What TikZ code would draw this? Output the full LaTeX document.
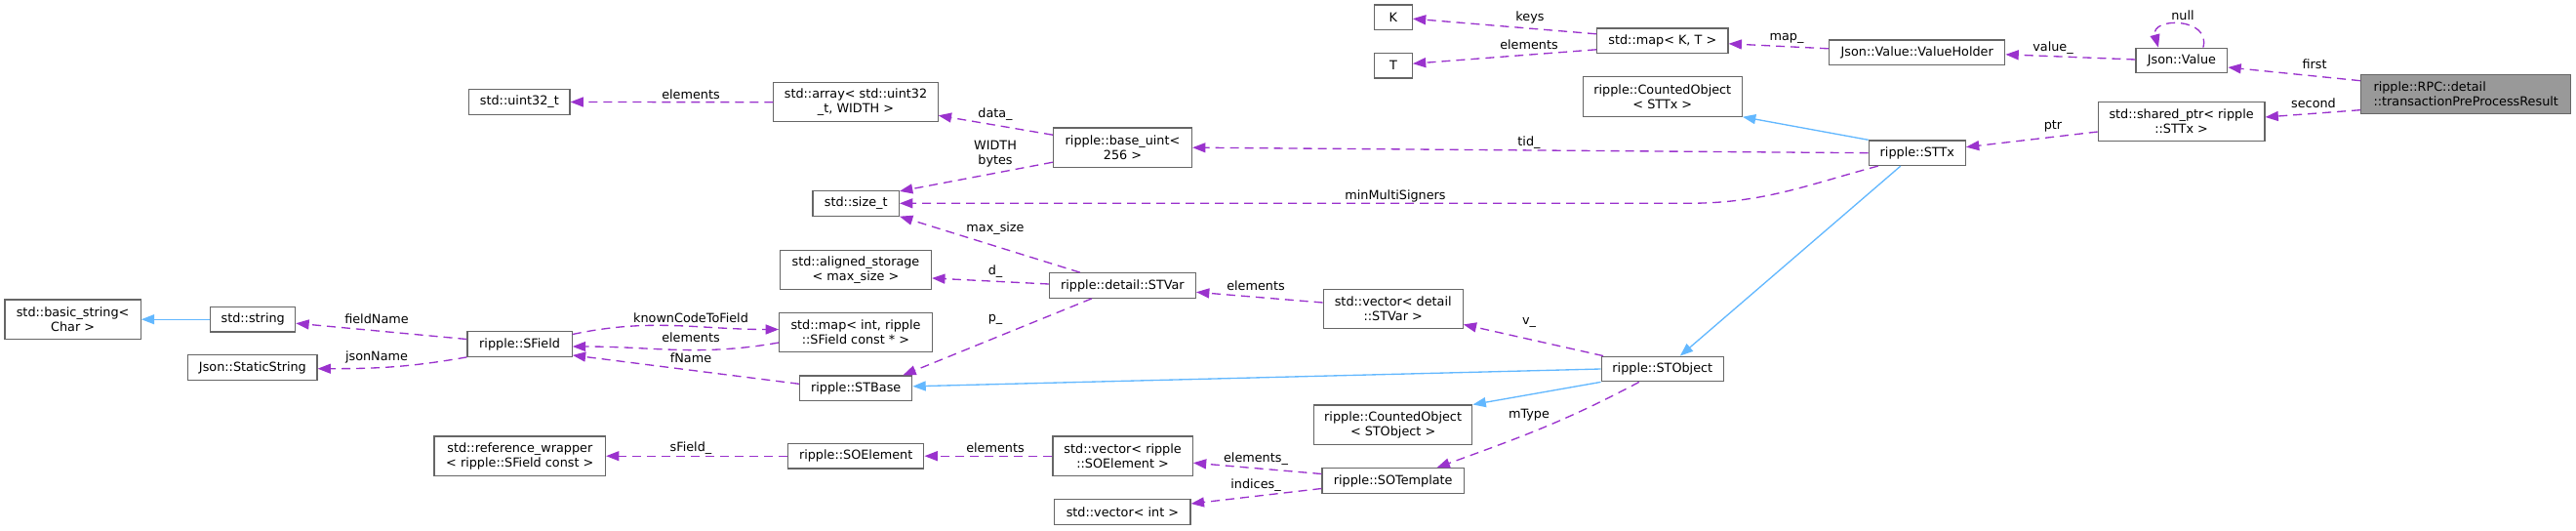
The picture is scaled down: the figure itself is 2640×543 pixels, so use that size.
\documentclass[tikz,border=0pt]{standalone}
\usepackage{fontspec}
\setmainfont{DejaVu Sans}
\usetikzlibrary{arrows.meta,calc}
\definecolor{orchid}{RGB}{154,50,205}
\definecolor{steel}{RGB}{99,184,255}
\definecolor{frame}{RGB}{102,102,102}
\definecolor{rootgray}{RGB}{153,153,153}
\newcommand\dotfont{\fontsize{9.6}{11.25}\selectfont}
\tikzset{
  >={Triangle[length=10pt,width=7.5pt]},
  cls/.style={draw=frame,fill=white,line width=0.9pt,inner sep=0pt,
    minimum height=19.2pt,align=center,font=\dotfont},
  member/.style={->,draw=orchid,line width=1pt,dash pattern=on 6.75pt off 4.5pt},
  derive/.style={->,draw=steel,line width=1pt},
  lbl/.style={font=\dotfont,inner sep=0pt,align=center},
}
\begin{document}
\begin{tikzpicture}[x=0.75pt,y=-0.75pt]
  \useasboundingbox (0,0) rectangle (2640,543);
  % classes
  \node[cls,fill=rootgray,align=left,minimum width=161.4pt,minimum height=30pt] (root) at (2527.2,96.7)
    {ripple::RPC::detail\\::transactionPreProcessResult};
  \foreach \n/\x/\y/\w/\h/\t in {
      jvalue/2235.9/62/70.3/19.2/{Json::Value},
      sharedp/2235.6/124.5/128/30.2/{std::shared\_ptr< ripple\\::STTx >},
      holder/1964.7/53.8/135.2/19.2/{Json::Value::ValueHolder},
      sttx/1964.8/156.7/74.3/19.2/{ripple::STTx},
      mapkt/1703.8/41.8/100.8/19.2/{std::map< K, T >},
      costtx/1703.8/99/122.3/30.2/{ripple::CountedObject\\< STTx >},
      stobject/1703.8/378/94/19.2/{ripple::STObject},
      keyk/1427.9/17.7/29.1/19.2/K,
      keyt/1427.9/67.2/29.1/19.2/T,
      vecstvar/1427.7/316.7/107.2/30.2/{std::vector< detail\\::STVar >},
      costobj/1427.6/435.2/121.9/30.2/{ripple::CountedObject\\< STObject >},
      sotempl/1427.7/492.5/109.1/19.2/{ripple::SOTemplate},
      baseuint/1150.5/151.2/106.5/30.2/{ripple::base\_uint<\\256 >},
      stvar/1150.4/292.5/112.5/19.2/{ripple::detail::STVar},
      vecsoelem/1150.6/467.2/107.5/30.2/{std::vector< ripple\\::SOElement >},
      vecint/1150.4/524.5/104.5/19.2/{std::vector< int >},
      stdarray/877/104.7/126.2/30.2/{std::array< std::uint32\\\_t, WIDTH >},
      sizet/877.2/208.3/66.3/19.2/{std::size\_t},
      aligned/877/276.7/116.3/30.2/{std::aligned\_storage\\< max\_size >},
      mapint/877/340.5/117.5/30.2/{std::map< int, ripple\\::SField const * >},
      stbase/877.2/397.8/86.4/19.2/{ripple::STBase},
      soelem/877.2/467.2/104.5/19.2/{ripple::SOElement},
      uint32/532.4/104.5/77.3/19.2/{std::uint32\_t},
      sfield/532.6/352.5/80.4/19.2/{ripple::SField},
      refwrap/532.8/467.2/131.6/30.2/{std::reference\_wrapper\\< ripple::SField const >},
      stdstring/259.2/327.2/65.3/19.2/{std::string},
      staticstr/258.9/376.5/99.1/19.2/{Json::StaticString},
      basicstr/74.6/327.2/104.5/30.2/{std::basic\_string<\\Char >}}
    \node[cls,minimum width=\w pt,minimum height=\h pt] (\n) at (\x,\y) {\t};
  % members
  \draw[member] ($(root.west)+(0,-14)$) -- ($(jvalue.east)+(0,7)$);
  \draw[member] ($(root.west)+(0,16)$) -- ($(sharedp.east)+(0,-4.5)$);
  \draw[member] ($(jvalue.north)+(22,0)$) to[out=75,in=105,looseness=1.8] ($(jvalue.north)+(-24,0)$);
  \draw[member] ($(jvalue.west)+(0,-1)$) -- ($(holder.east)+(0,2)$);
  \draw[member] ($(holder.west)+(0,-4)$) -- ($(mapkt.east)+(0,3)$);
  \draw[member] ($(mapkt.west)+(0,-7)$) -- ($(keyk.east)+(0,1.5)$);
  \draw[member] ($(mapkt.west)+(0,9)$) -- ($(keyt.east)+(0,-2)$);
  \draw[member] ($(sharedp.west)+(0,10.5)$) -- ($(sttx.east)+(0,-6)$);
  \draw[member] (sttx.west) -- (baseuint.east);
  \draw[member] ($(sttx.south west)+(10,0)$) to[out=195,in=0] ($(sizet.east)+(807,0)$) -- (sizet.east);
  \draw[member] ($(baseuint.west)+(0,-13)$) -- ($(stdarray.east)+(0,13.6)$);
  \draw[member] ($(baseuint.west)+(0,15)$) -- ($(sizet.north east)+(0,1)$);
  \draw[member] (stdarray.west) -- (uint32.east);
  \draw[member] ($(stvar.north west)+(32,0)$) -- (sizet.south east);
  \draw[member] ($(stvar.west)+(0,-1.5)$) -- ($(aligned.east)+(0,8.3)$);
  \draw[member] ($(stvar.south)+(-31.6,0)$) -- ($(stbase.north east)+(-10,0)$);
  \draw[member] ($(stbase.west)+(0,-4.5)$) -- ($(sfield.south east)+(0,-2)$);
  \draw[member] ($(sfield.east)+(0,-10)$) to[out=12,in=180] ($(mapint.west)+(0,-3)$);
  \draw[member] ($(mapint.west)+(0,10.5)$) to[out=190,in=0] ($(sfield.east)+(0,2.5)$);
  \draw[member] (soelem.west) -- (refwrap.east);
  \draw[member] (vecsoelem.west) -- (soelem.east);
  \draw[member] ($(sotempl.west)+(0,-7)$) -- ($(vecsoelem.east)+(0,7)$);
  \draw[member] ($(sotempl.west)+(0,8)$) -- ($(vecint.east)+(0,-8.5)$);
  \draw[member] ($(vecstvar.west)+(0,-6.7)$) -- ($(stvar.east)+(0,6.8)$);
  \draw[member] ($(stobject.north west)+(2.6,0)$) -- ($(vecstvar.south east)+(0,-5)$);
  \draw[member] ($(stobject.south)+(-24,0)$) to[out=208,in=20] ($(sotempl.north east)+(-28.5,0)$);
  \draw[member] ($(sfield.west)+(0,-5)$) -- ($(stdstring.east)+(0,4)$);
  \draw[member] (sfield.south west) to[out=190,in=0] ($(staticstr.east)+(0,1.2)$);
  % bases
  \draw[derive] (sttx.north west) -- (costtx.south east);
  \draw[derive] ($(sttx.south)+(-17,0)$) -- ($(stobject.north)+(18,0)$);
  \draw[derive] (stobject.west) -- ($(stbase.east)+(0,-2)$);
  \draw[derive] (stobject.south west) -- (costobj.north east);
  \draw[derive] (stdstring.west) -- (basicstr.east);
  % edge labels
  \foreach \x/\y/\t [count=\k] in {2372/66/first, 2371/106/second, 2237/16/null, 2104/49/value\_,
      1831/39/map\_, 1568/18/keys, 1567/46/elements, 2104/129.5/ptr, 1567/146/tid\_,
      1430/201/minMultiSigners, 1020/117/data\_, 1020/158/{WIDTH\\bytes}, 708/97/elements,
      1020/234/max\_size, 1020/278/d\_, 1020/327/p\_, 708/366.5/fName, 708/326/knownCodeToField,
      708/346/elements, 708/459/sField\_, 1020/459/elements, 1287/470/elements\_,
      1287/497/indices\_, 1287/293/elements, 1567/331/v\_, 1567/425/mType,
      386/326.5/fieldName, 386/366/jsonName}
    \node[lbl] (l\k) at (\x,\y) {\t};
\end{tikzpicture}
\end{document}
